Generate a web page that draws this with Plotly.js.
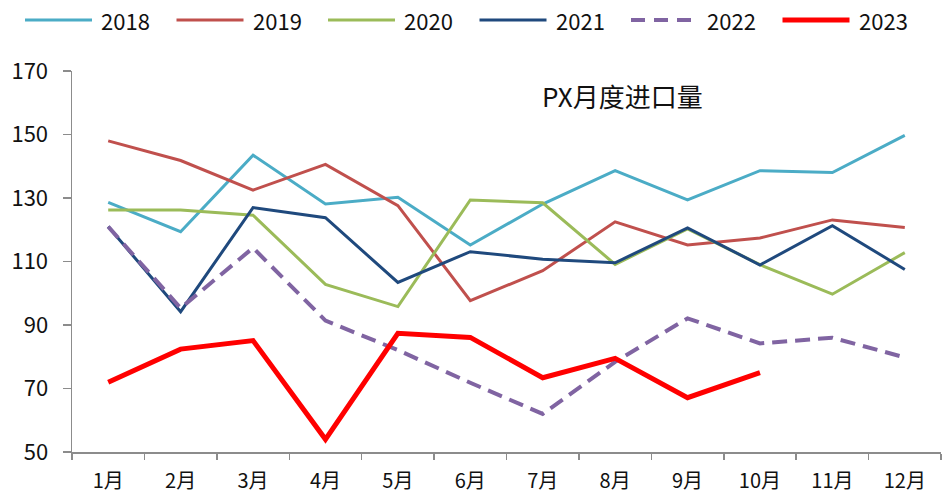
<!DOCTYPE html>
<html>
<head>
<meta charset="utf-8">
<script src="https://cdn.plot.ly/plotly-3.0.1.min.js"></script>
<style>html,body{margin:0;padding:0;background:#fff;}#chart{width:943px;height:499px;}</style>
</head>
<body>
<div id="chart"></div>
<script>
const months = ['1月','2月','3月','4月','5月','6月','7月','8月','9月','10月','11月','12月'];
const seriesNames = ['2018','2019','2020','2021','2022','2023'];
const y2018 = [128.6,119.4,143.5,128.1,130.2,115.2,128.1,138.6,129.4,138.6,138.0,149.7];
const y2019 = [148.0,141.8,132.5,140.6,127.6,97.7,107.1,122.5,115.2,117.4,123.1,120.7];
const y2020 = [126.2,126.2,124.6,102.8,95.8,129.4,128.5,109.1,120.3,109.0,99.7,112.8];
const y2021 = [121.0,94.2,127.0,123.8,103.4,113.1,110.7,109.6,120.6,108.9,121.3,107.5];
const y2022 = [121.0,95.3,114.3,91.4,82.1,71.8,62.0,78.4,92.1,84.2,86.0,79.8];
const y2023 = [72.0,82.4,85.1,54.0,87.4,86.1,73.4,79.5,67.1,75.0];
const yTicks = [50,70,90,110,130,150,170];
const chartTitle = 'PX月度进口量';

const values = [y2018,y2019,y2020,y2021,y2022,y2023];
const colors = ['#4BACC6','#C0504D','#9BBB59','#1F497D','#8064A2','#FF0000'];
const widths = [3,3,3,3,4,5];
const dashes = ['solid','solid','solid','solid','15px,8px','solid'];

const FONT = '"Noto Sans CJK SC","Noto Sans",sans-serif';
const W=943,H=499,L=72,R=2,T=71,B=47;
const pw=W-L-R, ph=H-T-B;
const px2x = p => (p-L)/pw;
const py2y = p => (H-B-p)/ph;

const traces = values.map((v,i)=>({
  type:'scatter', mode:'lines', name:seriesNames[i],
  x: months.slice(0,v.length), y: v,
  line:{color:colors[i], width:widths[i], dash:dashes[i]},
  showlegend:false, hoverinfo:'x+y+name'
}));

const shapes = [];
const annotations = [];
seriesNames.forEach((n,i)=>{
  const x0 = 25 + i*151.5, x1 = x0 + 67;
  shapes.push({type:'line', xref:'paper', yref:'paper',
    x0:px2x(x0), x1:px2x(x1), y0:py2y(20), y1:py2y(20),
    line:{color:colors[i], width:widths[i], dash:i===4?'14px,9px':'solid'}});
  annotations.push({xref:'paper', yref:'paper', x:px2x(x0+74), y:py2y(20),
    xanchor:'left', yanchor:'middle', text:n, showarrow:false,
    font:{family:FONT, size:22, color:'#111'}});
});
annotations.push({xref:'paper', yref:'paper', x:px2x(622), y:py2y(95),
  xanchor:'center', yanchor:'middle', text:chartTitle, showarrow:false,
  font:{family:FONT, size:26, color:'#111'}});

const layout = {
  width:W, height:H,
  margin:{l:L, r:R, t:T, b:B, pad:0},
  paper_bgcolor:'#fff', plot_bgcolor:'#fff',
  font:{family:FONT, size:20, color:'#111'},
  showlegend:false,
  xaxis:{type:'category', categoryarray:months, range:[-0.5,11.5],
    showline:true, linecolor:'#8c8c8c', linewidth:1.5,
    ticks:'outside', tickson:'boundaries', ticklen:6, tickcolor:'#8c8c8c', tickwidth:1.5,
    showgrid:false, zeroline:false, ticklabelstandoff:10,
    tickfont:{family:FONT, size:20, color:'#111'}},
  yaxis:{range:[50,170], tickvals:yTicks, ticktext:yTicks.map(String),
    showline:true, linecolor:'#8c8c8c', linewidth:1.5,
    ticks:'outside', ticklen:8, tickcolor:'#8c8c8c', tickwidth:1.5,
    showgrid:false, zeroline:false, ticklabelstandoff:10,
    tickfont:{family:FONT, size:22, color:'#111'}},
  shapes:shapes, annotations:annotations
};

Plotly.newPlot('chart', traces, layout, {displayModeBar:false, staticPlot:true});
</script>
</body>
</html>
